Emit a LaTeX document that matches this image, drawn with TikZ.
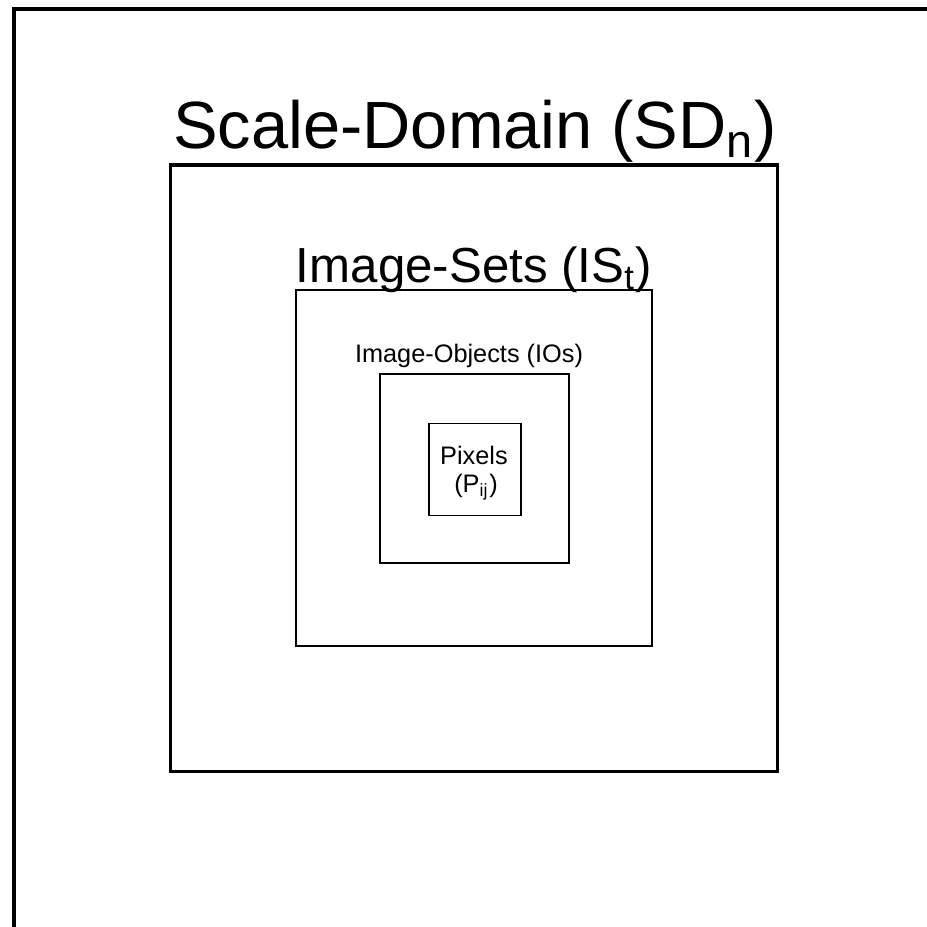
\documentclass[tikz,border=0pt]{standalone}
\usepackage{fontspec}
\setmainfont{Liberation Sans}
\begin{document}
\begin{tikzpicture}[x=0.01cm, y=-0.01cm, line join=miter,
		lvlbox/.style={draw, line width=#1, inner sep=0pt, outer sep=0pt},
		lvltext/.style={anchor=base, inner sep=0pt}]
				\useasboundingbox (0,0) rectangle (927,926);
				\clip (0,0) rectangle (927,926);
				% frame round the page, cut off right and below
				\coordinate (FL) at (14,940);
				\coordinate (FC) at (14,9);
				\coordinate (FR) at (940,9);
				\draw[line width=1.2pt] (FL) -- (FC) -- (FR);
				% nested levels
				\node[lvlbox=0.95pt, minimum size=6.06cm] (SD) at (474,468) {};
				\node[lvlbox=0.6pt, minimum size=3.56cm] (IS) at (474,468) {};
				\node[lvlbox=0.55pt, minimum size=1.89cm] (IO) at (474.5,468.5) {};
				\node[lvlbox=0.5pt, minimum size=0.92cm] (P) at (475,469.5) {};
				% labels
				\node[lvltext, font=\fontsize{19}{22}\selectfont] (SDtext) at (475,148) {Scale-Domain (SD\textsubscript{n})};
				\node[lvltext, font=\fontsize{14}{17}\selectfont] (IStext) at (474,282) {Image-Sets (IS\textsubscript{t})};
				\node[lvltext, font=\fontsize{7.2}{9}\selectfont] (IOtext) at (469,362) {Image-Objects (IOs)};
				\node[lvltext, font=\fontsize{7.2}{9}\selectfont] (Ptext) at (474,464) {Pixels};
				\node[lvltext, font=\fontsize{7.2}{9}\selectfont] (Psub) at (476,492) {(P\textsubscript{ij})};
			\end{tikzpicture}
\end{document}
